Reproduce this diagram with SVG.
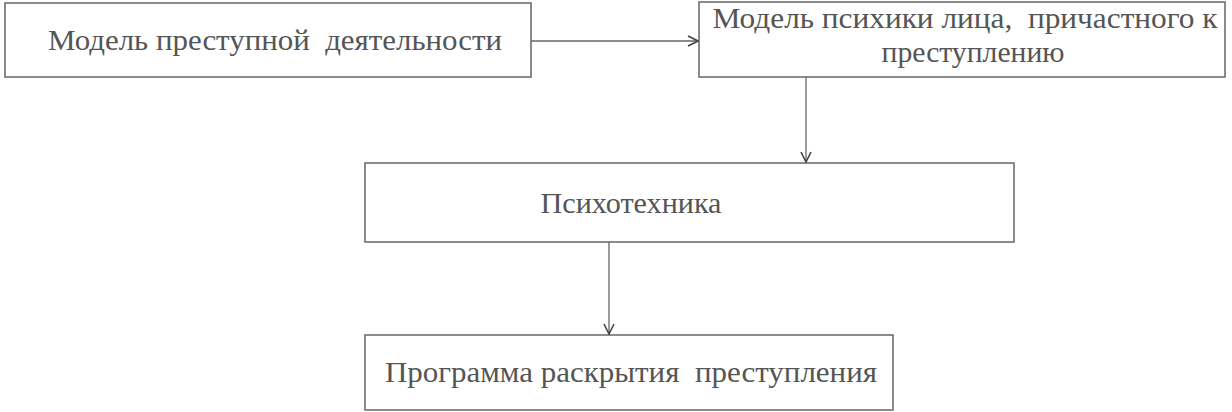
<svg xmlns="http://www.w3.org/2000/svg" width="1232" height="412" viewBox="0 0 1232 412">
<style>
.box{fill:#fff;stroke:#666;stroke-width:1.5}
.t{font-family:'Liberation Serif','DejaVu Serif','Times New Roman',serif;font-size:30px;fill:#555;text-anchor:middle;white-space:pre}
.c{stroke:#666;stroke-width:1.3;fill:none}
</style>
<defs>
<marker id="ah" viewBox="0 0 12 12" refX="11" refY="6" markerWidth="12" markerHeight="12" markerUnits="userSpaceOnUse" orient="auto">
<path d="M1,1 L11,6 L1,11" fill="none" stroke="#444" stroke-width="1.6"/>
</marker>
</defs>
<rect width="1232" height="412" fill="#fff"/>
<g id="n1"><rect class="box" x="5" y="3" width="526" height="74"/><text class="t" x="275" y="50" textLength="454" lengthAdjust="spacingAndGlyphs" xml:space="preserve">Модель преступной  деятельности</text></g>
<g id="n2"><rect class="box" x="699" y="2" width="526" height="75"/><text class="t" x="965" y="28" textLength="505" lengthAdjust="spacingAndGlyphs" xml:space="preserve">Модель психики лица,  причастного к</text><text class="t" x="973" y="62" textLength="183" lengthAdjust="spacingAndGlyphs">преступлению</text></g>
<g id="n3"><rect class="box" x="365" y="163" width="649" height="79"/><text class="t" x="631" y="213" textLength="181" lengthAdjust="spacingAndGlyphs">Психотехника</text></g>
<g id="n4"><rect class="box" x="365" y="335" width="528" height="75"/><text class="t" x="631" y="382" textLength="492" lengthAdjust="spacingAndGlyphs" xml:space="preserve">Программа раскрытия  преступления</text></g>
<g id="connectors">
<line class="c" x1="531" y1="41" x2="698" y2="41" marker-end="url(#ah)"/>
<line class="c" x1="806" y1="77" x2="806" y2="162" marker-end="url(#ah)"/>
<line class="c" x1="609" y1="242" x2="609" y2="334" marker-end="url(#ah)"/>
</g>
</svg>
